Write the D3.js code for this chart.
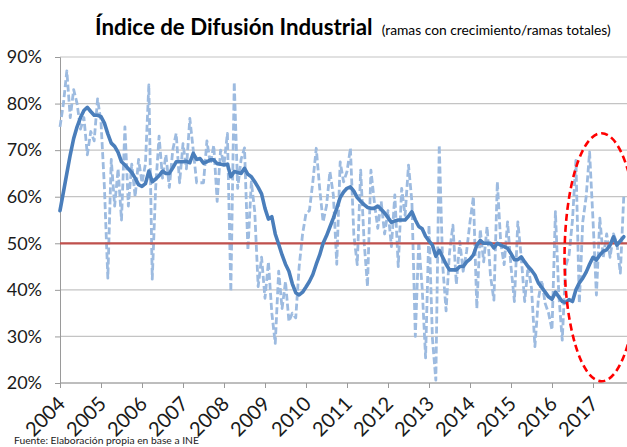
<!DOCTYPE html>
<html><head><meta charset="utf-8">
<script src="https://cdn.jsdelivr.net/npm/d3@7"></script>
<style>body{margin:0;background:#fff} svg{display:block}</style>
</head><body>
<script>
// ---- data (percent), monthly from Jan 2004 ----
const years = ["2004","2005","2006","2007","2008","2009","2010","2011","2012","2013","2014","2015","2016","2017"];
const yTicks = [20,30,40,50,60,70,80,90];
const referenceLevel = 50;

// solid line: moving average
const movingAvg = [
 57,61,65,69,72.5,75,77,78.5,79.2,78.3,77.5,77.5,
 77.2,75.8,73.5,71.5,70.8,69.5,67.5,66.8,66,65.2,64,62.6,
 62.2,62.8,65.5,63.2,63.8,64.5,65.5,65,65,66.2,67.5,67.5,
 67.5,67.6,67.3,69.3,68,68.2,67.2,67.5,67.9,67.9,67.1,67,
 66.8,67,64.3,65.4,65.2,65,66.1,64.8,64.3,63.2,62,60.6,
 57.5,55.2,55.7,52,49.8,47.5,45.5,44,41.3,39.4,38.9,39.5,
 40.6,41.8,43.3,45.5,47.5,50,51.6,53.5,55.4,57.5,59.8,61,
 61.8,62.1,61.2,59.8,59,58.3,57.7,57.5,57.5,58,57.3,56.5,
 55.5,54.5,54.8,55,55,55,55.8,56.8,55,53.6,53.1,51.5,
 50.5,49.6,47.2,48.5,47,45.5,44.3,44.3,44.3,45,45,46,
 46.6,47.5,49.6,50.6,50,50,50,49,50,49.6,49.3,48.9,
 47.8,46.5,46.5,47.1,46,45,44.2,43.2,41.5,40.5,39.5,38.5,
 38,39.5,38.5,37.5,37.3,37.9,37.5,40,41.5,42.5,43.8,45.5,
 47,46.4,47.5,48.3,48.6,49.6,51.4,49.6,50.5,51.4
];

// dashed line: monthly index
const monthly = [
 75,80,87,77,83,80,74.5,77,69,74,72,81,
 76,62,42.5,68,58,66,55,75,58,67,60,68,
 63,67,84,42.3,62,73,64,69,62,70,73.6,63,
 71.4,66,76.8,70,63,63,63,72,67,71,59,70,
 67,73.6,39.6,84.6,61.8,68,70.5,48.5,63.2,56.8,40.7,47,
 38.2,46,35,28.5,44,36,41.8,33.2,35,34,45,52,
 56.4,57,63.2,70.4,61.8,54.6,58,65.4,60.4,45.5,67.5,63.2,
 65.4,70.4,51.8,45.4,65.7,50.4,40.7,65.7,58.9,53.2,59,52,
 57,49.3,60.4,45,61.8,56,66.8,58.9,30,50.4,40.4,25.4,
 53.9,29.6,20.6,71.1,45.4,35.5,48,53.9,41.2,50.4,44,48.2,
 54.6,60,36,53,46,53.6,43,37.8,63.2,50,45.4,54.6,
 45,37.5,54.6,47,37.5,45,40.4,27.8,38,42,37.1,35,
 31.4,56.8,38.9,29.2,45,47.5,55,67.8,37.1,54.6,60,69.6,
 55,38.9,55.4,47,52,47,52,50,43.6,60
];

const W = 627, H = 447;
const pL = 60, pR = 627, pT = 57, pB = 383;
const FONT = "Lato, 'Open Sans', sans-serif";
const svg = d3.select("body").append("svg").attr("width", W).attr("height", H);

const x = d3.scaleLinear().domain([0, (years.length - 1) * 12]).range([60, 593]);
const y = d3.scaleLinear().domain([20, 90]).range([pB, pT]);

// gridlines
svg.append("g").selectAll("line").data(yTicks).join("line")
  .attr("x1", pL).attr("x2", pR)
  .attr("y1", d => y(d)).attr("y2", d => y(d))
  .attr("stroke", "#c4c4c4").attr("stroke-width", 1.2);

// y axis
const yAxis = svg.append("g").attr("transform", `translate(${pL},0)`)
  .call(d3.axisLeft(y).tickValues(yTicks).tickFormat(d => d + "%").tickSize(5).tickPadding(13));
yAxis.select(".domain").attr("stroke", "#9a9a9a");
yAxis.selectAll(".tick line").attr("stroke", "#9a9a9a");
yAxis.selectAll("text").attr("font-family", FONT)
  .attr("font-size", 18).attr("fill", "#1a1a1a");

// x axis
const xAxis = svg.append("g").attr("transform", `translate(0,${pB})`)
  .call(d3.axisBottom(x).tickValues(years.map((d, i) => i * 12)).tickFormat((d, i) => years[i]).tickSize(5));
xAxis.select(".domain").attr("stroke", "#9a9a9a").attr("d", `M${pL},0H${pR}`);
xAxis.selectAll(".tick line").attr("stroke", "#9a9a9a");
xAxis.selectAll("text")
  .attr("font-family", FONT).attr("font-size", 20).attr("fill", "#1a1a1a")
  .attr("text-anchor", "end").attr("dy", 0).attr("y", 0)
  .attr("transform", "translate(6,22) rotate(-45)");

const line = d3.line().x((d, i) => x(i)).y(d => y(d));

// dashed monthly
svg.append("path").datum(monthly).attr("d", line)
  .attr("fill", "none").attr("stroke", "#9dbbe0").attr("stroke-width", 2.8)
  .attr("stroke-dasharray", "7,3").attr("stroke-linejoin", "round");

// red 50% line
svg.append("line").attr("x1", pL).attr("x2", pR)
  .attr("y1", y(referenceLevel)).attr("y2", y(referenceLevel))
  .attr("stroke", "#c0504d").attr("stroke-width", 2.2);

// solid moving average
svg.append("path").datum(movingAvg).attr("d", line)
  .attr("fill", "none").attr("stroke", "#4a7ebb").attr("stroke-width", 3.6)
  .attr("stroke-linejoin", "round").attr("stroke-linecap", "round");

// highlight ellipse
svg.append("ellipse").attr("cx", x(158.5)).attr("cy", y(47))
  .attr("rx", 37).attr("ry", 124)
  .attr("fill", "none").attr("stroke", "#ff0000").attr("stroke-width", 2.6)
  .attr("stroke-dasharray", "7,4");

// title
const t = svg.append("text").attr("x", 95).attr("y", 35)
  .attr("font-family", FONT);
t.append("tspan").attr("font-weight", "bold").attr("font-size", 22.3).text("Índice de Difusión Industrial");
t.append("tspan").attr("font-size", 13.8).attr("dx", 9).text("(ramas con crecimiento/ramas totales)");

// source
svg.append("text").attr("x", 14).attr("y", 444)
  .attr("font-family", FONT).attr("font-size", 10.3).attr("fill", "#222")
  .text("Fuente: Elaboración propia en base a INE");
</script>
</body></html>
